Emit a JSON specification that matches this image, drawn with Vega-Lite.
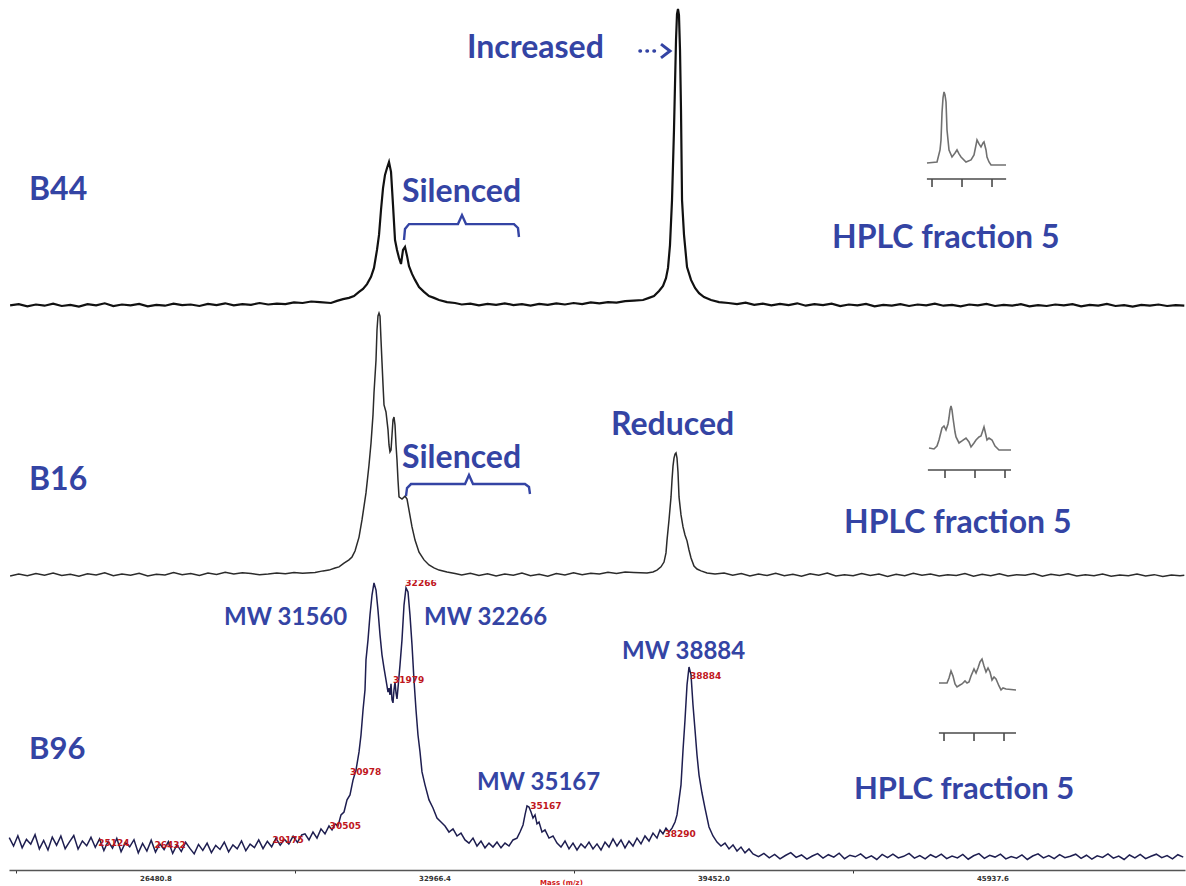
{
"$schema":"https://vega.github.io/schema/vega-lite/v6.json",
"background":"white",
"padding":{"left":5,"right":0,"top":0,"bottom":0},
"spacing":0,
"bounds":"flush",
"config":{"view":{"stroke":null}},
"datasets":{
"b44":[{"m":23100,"i":2.2},{"m":23300,"i":2.6},{"m":23500,"i":1.9},{"m":23700,"i":2.5},{"m":23900,"i":2.1},{"m":24100,"i":2.8},{"m":24300,"i":2.0},{"m":24500,"i":2.4},{"m":24700,"i":1.8},{"m":24900,"i":2.6},{"m":25100,"i":2.2},{"m":25300,"i":2.9},{"m":25500,"i":2.0},{"m":25700,"i":2.5},{"m":25900,"i":2.2},{"m":26100,"i":2.7},{"m":26300,"i":1.9},{"m":26500,"i":2.4},{"m":26700,"i":2.1},{"m":26900,"i":2.8},{"m":27100,"i":2.3},{"m":27300,"i":2.5},{"m":27500,"i":2.0},{"m":27700,"i":2.7},{"m":27900,"i":2.3},{"m":28100,"i":2.9},{"m":28300,"i":2.2},{"m":28500,"i":2.6},{"m":28700,"i":2.4},{"m":28900,"i":3.0},{"m":29100,"i":2.5},{"m":29300,"i":2.8},{"m":29500,"i":2.6},{"m":29700,"i":3.2},{"m":29900,"i":3.0},{"m":30100,"i":3.5},{"m":30300,"i":3.3},{"m":30560,"i":3.0},{"m":30700,"i":3.7},{"m":30840,"i":4.3},{"m":30979,"i":4.7},{"m":31095,"i":5.3},{"m":31212,"i":6.7},{"m":31305,"i":7.7},{"m":31398,"i":9.3},{"m":31491,"i":11.7},{"m":31560,"i":14.7},{"m":31630,"i":20.7},{"m":31677,"i":25.7},{"m":31723,"i":34.0},{"m":31770,"i":41.3},{"m":31816,"i":45.7},{"m":31863,"i":48.0},{"m":31909,"i":50.0},{"m":31956,"i":46.7},{"m":32002,"i":35.7},{"m":32049,"i":24.0},{"m":32095,"i":20.7},{"m":32142,"i":18.0},{"m":32188,"i":16.0},{"m":32235,"i":20.7},{"m":32281,"i":21.7},{"m":32328,"i":18.7},{"m":32374,"i":15.3},{"m":32444,"i":12.7},{"m":32514,"i":10.7},{"m":32607,"i":8.3},{"m":32723,"i":6.7},{"m":32839,"i":5.3},{"m":32955,"i":4.7},{"m":33072,"i":4.0},{"m":33258,"i":3.3},{"m":33444,"i":3.0},{"m":33600,"i":2.5},{"m":33800,"i":2.8},{"m":34000,"i":2.2},{"m":34200,"i":2.7},{"m":34400,"i":2.4},{"m":34600,"i":2.9},{"m":34800,"i":2.3},{"m":35000,"i":2.6},{"m":35200,"i":2.1},{"m":35400,"i":2.7},{"m":35600,"i":2.4},{"m":35800,"i":2.9},{"m":36000,"i":2.5},{"m":36200,"i":3.0},{"m":36400,"i":2.6},{"m":36600,"i":3.2},{"m":36800,"i":2.9},{"m":37000,"i":3.3},{"m":37200,"i":3.1},{"m":37400,"i":3.6},{"m":37600,"i":3.8},{"m":37815,"i":4.0},{"m":37954,"i":4.7},{"m":38070,"i":5.3},{"m":38187,"i":7.0},{"m":38280,"i":8.7},{"m":38349,"i":11.3},{"m":38396,"i":14.7},{"m":38442,"i":22.3},{"m":38489,"i":37.3},{"m":38535,"i":60.7},{"m":38582,"i":90.7},{"m":38605,"i":99.3},{"m":38628,"i":101.0},{"m":38651,"i":99.0},{"m":38675,"i":87.3},{"m":38698,"i":67.3},{"m":38722,"i":37.3},{"m":38768,"i":25.7},{"m":38838,"i":15.0},{"m":38931,"i":10.7},{"m":39024,"i":8.0},{"m":39117,"i":6.3},{"m":39233,"i":5.0},{"m":39396,"i":4.0},{"m":39582,"i":3.3},{"m":39800,"i":3.0},{"m":40000,"i":2.6},{"m":40200,"i":3.1},{"m":40400,"i":2.4},{"m":40600,"i":2.8},{"m":40800,"i":2.2},{"m":41000,"i":2.7},{"m":41200,"i":2.3},{"m":41400,"i":2.9},{"m":41600,"i":2.1},{"m":41800,"i":2.6},{"m":42000,"i":2.3},{"m":42200,"i":2.8},{"m":42400,"i":2.0},{"m":42600,"i":2.5},{"m":42800,"i":2.2},{"m":43000,"i":2.7},{"m":43200,"i":1.9},{"m":43400,"i":2.4},{"m":43600,"i":2.1},{"m":43800,"i":2.6},{"m":44000,"i":2.0},{"m":44200,"i":2.5},{"m":44400,"i":2.2},{"m":44600,"i":2.8},{"m":44800,"i":2.1},{"m":45000,"i":2.4},{"m":45200,"i":1.9},{"m":45400,"i":2.5},{"m":45600,"i":2.2},{"m":45800,"i":2.7},{"m":46000,"i":2.0},{"m":46200,"i":2.4},{"m":46400,"i":2.1},{"m":46600,"i":2.6},{"m":46800,"i":1.9},{"m":47000,"i":2.3},{"m":47200,"i":2.0},{"m":47400,"i":2.5},{"m":47600,"i":2.2},{"m":47800,"i":2.6},{"m":48000,"i":1.9},{"m":48200,"i":2.4},{"m":48400,"i":2.1},{"m":48600,"i":2.7},{"m":48800,"i":2.0},{"m":49000,"i":2.3},{"m":49200,"i":1.8},{"m":49400,"i":2.4},{"m":49600,"i":2.1},{"m":49800,"i":2.5},{"m":50000,"i":2.0},{"m":50200,"i":2.3},{"m":50400,"i":2.1}],
"b16":[{"m":23100,"i":1.5},{"m":23300,"i":2.2},{"m":23500,"i":1.6},{"m":23700,"i":2.4},{"m":23900,"i":1.8},{"m":24100,"i":2.6},{"m":24300,"i":1.7},{"m":24500,"i":2.1},{"m":24700,"i":1.4},{"m":24900,"i":2.3},{"m":25100,"i":1.9},{"m":25300,"i":2.7},{"m":25500,"i":1.6},{"m":25700,"i":2.2},{"m":25900,"i":1.8},{"m":26100,"i":2.5},{"m":26300,"i":1.5},{"m":26500,"i":2.1},{"m":26700,"i":1.9},{"m":26900,"i":2.8},{"m":27100,"i":2.0},{"m":27300,"i":2.4},{"m":27500,"i":1.7},{"m":27700,"i":2.6},{"m":27900,"i":2.1},{"m":28100,"i":2.9},{"m":28300,"i":2.2},{"m":28500,"i":2.7},{"m":28700,"i":2.4},{"m":28900,"i":2.0},{"m":29100,"i":2.2},{"m":29300,"i":2.6},{"m":29500,"i":2.3},{"m":29700,"i":2.8},{"m":29900,"i":2.5},{"m":30189,"i":2.8},{"m":30375,"i":3.4},{"m":30514,"i":3.7},{"m":30654,"i":4.5},{"m":30747,"i":4.9},{"m":30863,"i":6.3},{"m":30979,"i":7.5},{"m":31049,"i":8.6},{"m":31119,"i":10.8},{"m":31212,"i":16.0},{"m":31281,"i":22.4},{"m":31374,"i":32.5},{"m":31444,"i":42.9},{"m":31491,"i":51.1},{"m":31537,"i":61.6},{"m":31560,"i":69.8},{"m":31607,"i":82.1},{"m":31630,"i":93.3},{"m":31653,"i":98.5},{"m":31677,"i":99.6},{"m":31700,"i":98.5},{"m":31723,"i":89.6},{"m":31746,"i":81.3},{"m":31770,"i":72.8},{"m":31793,"i":65.3},{"m":31839,"i":62.7},{"m":31886,"i":56.0},{"m":31909,"i":50.4},{"m":31932,"i":47.8},{"m":31956,"i":48.5},{"m":31979,"i":54.1},{"m":32002,"i":59.7},{"m":32025,"i":60.8},{"m":32049,"i":57.8},{"m":32072,"i":50.4},{"m":32095,"i":44.8},{"m":32118,"i":37.3},{"m":32142,"i":31.0},{"m":32211,"i":30.2},{"m":32281,"i":31.3},{"m":32328,"i":30.2},{"m":32374,"i":26.1},{"m":32444,"i":19.8},{"m":32514,"i":14.9},{"m":32607,"i":10.4},{"m":32723,"i":7.5},{"m":32839,"i":5.6},{"m":32955,"i":4.5},{"m":33072,"i":3.7},{"m":33258,"i":3.0},{"m":33444,"i":2.4},{"m":33600,"i":1.9},{"m":33800,"i":2.5},{"m":34000,"i":1.7},{"m":34200,"i":2.3},{"m":34400,"i":1.5},{"m":34600,"i":2.2},{"m":34800,"i":1.8},{"m":35000,"i":2.6},{"m":35200,"i":1.6},{"m":35400,"i":2.1},{"m":35600,"i":1.4},{"m":35800,"i":2.4},{"m":36000,"i":1.9},{"m":36200,"i":2.7},{"m":36400,"i":2.0},{"m":36600,"i":2.5},{"m":36800,"i":2.2},{"m":37000,"i":2.9},{"m":37200,"i":2.4},{"m":37400,"i":3.0},{"m":37600,"i":2.8},{"m":37908,"i":2.6},{"m":38047,"i":3.0},{"m":38140,"i":3.7},{"m":38233,"i":4.9},{"m":38303,"i":6.7},{"m":38349,"i":10.1},{"m":38373,"i":14.9},{"m":38419,"i":22.4},{"m":38466,"i":31.0},{"m":38489,"i":37.3},{"m":38512,"i":42.5},{"m":38535,"i":45.5},{"m":38559,"i":47.0},{"m":38582,"i":47.4},{"m":38605,"i":45.5},{"m":38628,"i":40.3},{"m":38652,"i":31.0},{"m":38698,"i":24.3},{"m":38745,"i":19.8},{"m":38791,"i":16.8},{"m":38838,"i":14.6},{"m":38884,"i":11.2},{"m":38931,"i":8.2},{"m":39000,"i":5.2},{"m":39070,"i":4.1},{"m":39163,"i":3.4},{"m":39303,"i":2.6},{"m":39489,"i":2.2},{"m":39700,"i":2.6},{"m":39900,"i":1.8},{"m":40100,"i":2.4},{"m":40300,"i":1.5},{"m":40500,"i":2.2},{"m":40700,"i":1.7},{"m":40900,"i":2.5},{"m":41100,"i":1.6},{"m":41300,"i":2.1},{"m":41500,"i":1.4},{"m":41700,"i":2.3},{"m":41900,"i":1.8},{"m":42100,"i":2.6},{"m":42300,"i":1.5},{"m":42500,"i":2.0},{"m":42700,"i":1.6},{"m":42900,"i":2.4},{"m":43100,"i":1.7},{"m":43300,"i":2.2},{"m":43500,"i":1.3},{"m":43700,"i":2.1},{"m":43900,"i":1.6},{"m":44100,"i":2.5},{"m":44300,"i":1.8},{"m":44500,"i":2.2},{"m":44700,"i":1.5},{"m":44900,"i":2.0},{"m":45100,"i":1.7},{"m":45300,"i":2.4},{"m":45500,"i":1.4},{"m":45700,"i":2.1},{"m":45900,"i":1.6},{"m":46100,"i":2.3},{"m":46300,"i":1.5},{"m":46500,"i":2.0},{"m":46700,"i":1.8},{"m":46900,"i":2.4},{"m":47100,"i":1.4},{"m":47300,"i":2.1},{"m":47500,"i":1.7},{"m":47700,"i":2.3},{"m":47900,"i":1.5},{"m":48100,"i":2.0},{"m":48300,"i":1.6},{"m":48500,"i":2.2},{"m":48700,"i":1.4},{"m":48900,"i":1.9},{"m":49100,"i":1.6},{"m":49300,"i":2.2},{"m":49500,"i":1.5},{"m":49700,"i":2.0},{"m":49900,"i":1.3},{"m":50100,"i":1.9},{"m":50300,"i":1.6},{"m":50400,"i":1.8}],
"b96":[{"m":23080,"i":12.3},{"m":23180,"i":9.1},{"m":23280,"i":13.0},{"m":23380,"i":8.4},{"m":23480,"i":11.6},{"m":23580,"i":9.8},{"m":23680,"i":13.4},{"m":23780,"i":8.0},{"m":23880,"i":11.2},{"m":23980,"i":7.6},{"m":24080,"i":12.5},{"m":24180,"i":9.4},{"m":24280,"i":12.9},{"m":24380,"i":8.1},{"m":24480,"i":10.7},{"m":24580,"i":13.1},{"m":24680,"i":7.9},{"m":24780,"i":11.0},{"m":24880,"i":9.2},{"m":24980,"i":12.4},{"m":25080,"i":8.6},{"m":25180,"i":11.8},{"m":25280,"i":7.4},{"m":25380,"i":10.9},{"m":25480,"i":8.3},{"m":25580,"i":12.0},{"m":25680,"i":6.9},{"m":25780,"i":10.4},{"m":25880,"i":8.8},{"m":25980,"i":11.5},{"m":26080,"i":6.5},{"m":26180,"i":10.1},{"m":26280,"i":7.2},{"m":26380,"i":11.3},{"m":26480,"i":6.8},{"m":26580,"i":9.9},{"m":26680,"i":7.7},{"m":26780,"i":10.8},{"m":26880,"i":6.3},{"m":26980,"i":9.6},{"m":27080,"i":7.0},{"m":27180,"i":10.5},{"m":27280,"i":8.2},{"m":27380,"i":6.1},{"m":27480,"i":9.7},{"m":27580,"i":7.4},{"m":27680,"i":10.2},{"m":27780,"i":6.6},{"m":27880,"i":9.3},{"m":27980,"i":7.8},{"m":28080,"i":10.6},{"m":28180,"i":6.9},{"m":28280,"i":9.5},{"m":28380,"i":8.0},{"m":28480,"i":11.0},{"m":28580,"i":7.3},{"m":28680,"i":9.8},{"m":28780,"i":8.5},{"m":28880,"i":11.4},{"m":28980,"i":8.1},{"m":29080,"i":10.9},{"m":29180,"i":8.8},{"m":29280,"i":12.0},{"m":29380,"i":9.4},{"m":29480,"i":11.6},{"m":29580,"i":9.9},{"m":29680,"i":12.8},{"m":29780,"i":10.5},{"m":29880,"i":13.3},{"m":29956,"i":13.7},{"m":30049,"i":11.4},{"m":30142,"i":14.4},{"m":30235,"i":12.1},{"m":30328,"i":15.6},{"m":30421,"i":13.7},{"m":30514,"i":16.7},{"m":30584,"i":15.2},{"m":30654,"i":17.5},{"m":30723,"i":16.7},{"m":30793,"i":20.9},{"m":30863,"i":22.0},{"m":30933,"i":26.6},{"m":31002,"i":28.5},{"m":31072,"i":34.1},{"m":31142,"i":37.9},{"m":31212,"i":44.8},{"m":31258,"i":51.2},{"m":31305,"i":60.7},{"m":31351,"i":68.3},{"m":31374,"i":79.7},{"m":31421,"i":87.3},{"m":31467,"i":96.7},{"m":31514,"i":104.3},{"m":31560,"i":108.9},{"m":31607,"i":106.2},{"m":31653,"i":98.6},{"m":31700,"i":89.2},{"m":31746,"i":81.6},{"m":31793,"i":76.6},{"m":31839,"i":72.1},{"m":31886,"i":67.5},{"m":31909,"i":69.0},{"m":31932,"i":66.4},{"m":31956,"i":70.6},{"m":31979,"i":64.5},{"m":32002,"i":63.4},{"m":32025,"i":68.3},{"m":32049,"i":71.3},{"m":32072,"i":67.2},{"m":32095,"i":64.9},{"m":32118,"i":69.0},{"m":32165,"i":77.8},{"m":32211,"i":87.3},{"m":32258,"i":100.5},{"m":32304,"i":107.0},{"m":32351,"i":105.5},{"m":32397,"i":96.7},{"m":32444,"i":85.4},{"m":32490,"i":72.1},{"m":32537,"i":60.7},{"m":32583,"i":51.2},{"m":32630,"i":44.8},{"m":32676,"i":37.2},{"m":32746,"i":32.3},{"m":32839,"i":26.6},{"m":32932,"i":23.5},{"m":33025,"i":19.7},{"m":33118,"i":18.2},{"m":33211,"i":16.7},{"m":33304,"i":14.4},{"m":33397,"i":15.6},{"m":33490,"i":12.9},{"m":33583,"i":14.0},{"m":33676,"i":11.4},{"m":33769,"i":10.2},{"m":33862,"i":12.1},{"m":33955,"i":9.1},{"m":34048,"i":11.0},{"m":34141,"i":8.4},{"m":34234,"i":10.2},{"m":34327,"i":8.7},{"m":34420,"i":10.6},{"m":34513,"i":8.4},{"m":34606,"i":10.2},{"m":34699,"i":9.1},{"m":34792,"i":11.4},{"m":34885,"i":12.1},{"m":34955,"i":14.4},{"m":35025,"i":17.1},{"m":35071,"i":20.9},{"m":35118,"i":24.3},{"m":35164,"i":23.9},{"m":35211,"i":22.0},{"m":35257,"i":19.7},{"m":35304,"i":20.9},{"m":35350,"i":17.5},{"m":35397,"i":18.2},{"m":35466,"i":14.4},{"m":35536,"i":15.2},{"m":35629,"i":12.1},{"m":35722,"i":12.9},{"m":35815,"i":10.2},{"m":35908,"i":8.7},{"m":36001,"i":11.0},{"m":36094,"i":8.0},{"m":36187,"i":10.2},{"m":36280,"i":7.6},{"m":36373,"i":9.9},{"m":36466,"i":8.4},{"m":36559,"i":10.6},{"m":36652,"i":8.0},{"m":36745,"i":9.9},{"m":36838,"i":7.6},{"m":36931,"i":10.6},{"m":37024,"i":8.7},{"m":37117,"i":11.8},{"m":37210,"i":9.1},{"m":37303,"i":11.4},{"m":37396,"i":8.4},{"m":37489,"i":11.0},{"m":37582,"i":9.1},{"m":37675,"i":12.1},{"m":37768,"i":9.9},{"m":37861,"i":12.9},{"m":37954,"i":11.0},{"m":38047,"i":14.0},{"m":38140,"i":12.1},{"m":38210,"i":15.2},{"m":38280,"i":13.7},{"m":38349,"i":15.9},{"m":38419,"i":14.4},{"m":38489,"i":15.9},{"m":38559,"i":18.2},{"m":38605,"i":20.9},{"m":38652,"i":26.6},{"m":38698,"i":32.3},{"m":38745,"i":45.5},{"m":38791,"i":56.9},{"m":38838,"i":70.2},{"m":38884,"i":77.0},{"m":38931,"i":74.0},{"m":38977,"i":62.6},{"m":39024,"i":53.1},{"m":39070,"i":43.6},{"m":39117,"i":36.0},{"m":39186,"i":29.2},{"m":39256,"i":23.5},{"m":39349,"i":16.3},{"m":39442,"i":12.9},{"m":39535,"i":10.6},{"m":39628,"i":9.1},{"m":39721,"i":10.2},{"m":39814,"i":8.0},{"m":39907,"i":9.5},{"m":40000,"i":7.2},{"m":40093,"i":8.7},{"m":40186,"i":6.5},{"m":40279,"i":8.0},{"m":40372,"i":6.1},{"m":40500,"i":5.1},{"m":40625,"i":6.3},{"m":40750,"i":4.6},{"m":40875,"i":5.9},{"m":41000,"i":4.2},{"m":41125,"i":5.5},{"m":41250,"i":6.6},{"m":41375,"i":4.8},{"m":41500,"i":5.7},{"m":41625,"i":4.1},{"m":41750,"i":5.3},{"m":41875,"i":6.2},{"m":42000,"i":4.5},{"m":42125,"i":5.8},{"m":42250,"i":4.9},{"m":42375,"i":6.4},{"m":42500,"i":4.3},{"m":42625,"i":5.6},{"m":42750,"i":5.0},{"m":42875,"i":6.1},{"m":43000,"i":4.4},{"m":43125,"i":5.4},{"m":43250,"i":4.0},{"m":43375,"i":5.9},{"m":43500,"i":4.7},{"m":43625,"i":6.0},{"m":43750,"i":4.6},{"m":43875,"i":5.2},{"m":44000,"i":6.3},{"m":44125,"i":4.5},{"m":44250,"i":5.5},{"m":44375,"i":4.2},{"m":44500,"i":5.8},{"m":44625,"i":4.8},{"m":44750,"i":6.0},{"m":44875,"i":4.3},{"m":45000,"i":5.3},{"m":45125,"i":4.6},{"m":45250,"i":5.9},{"m":45375,"i":4.1},{"m":45500,"i":5.4},{"m":45625,"i":6.2},{"m":45750,"i":4.4},{"m":45875,"i":5.6},{"m":46000,"i":4.9},{"m":46125,"i":6.0},{"m":46250,"i":4.2},{"m":46375,"i":5.1},{"m":46500,"i":4.5},{"m":46625,"i":5.7},{"m":46750,"i":4.0},{"m":46875,"i":5.3},{"m":47000,"i":6.1},{"m":47125,"i":4.6},{"m":47250,"i":5.5},{"m":47375,"i":4.3},{"m":47500,"i":5.8},{"m":47625,"i":4.7},{"m":47750,"i":5.2},{"m":47875,"i":6.0},{"m":48000,"i":4.4},{"m":48125,"i":5.6},{"m":48250,"i":4.1},{"m":48375,"i":5.4},{"m":48500,"i":4.8},{"m":48625,"i":6.1},{"m":48750,"i":4.5},{"m":48875,"i":5.3},{"m":49000,"i":4.0},{"m":49125,"i":5.7},{"m":49250,"i":4.6},{"m":49375,"i":5.9},{"m":49500,"i":4.3},{"m":49625,"i":5.2},{"m":49750,"i":6.0},{"m":49875,"i":4.7},{"m":50000,"i":5.5},{"m":50125,"i":4.2},{"m":50250,"i":5.8},{"m":50375,"i":4.9}],
"lab1":[{"m":23539,"i":40.7,"label":"B44"},{"m":32211,"i":40.0,"label":"Silenced"},{"m":33722,"i":88.0,"label":"Increased"},{"m":42209,"i":24.7,"label":"HPLC fraction 5"}],
"lab2":[{"m":23539,"i":37.3,"label":"B16"},{"m":32211,"i":45.5,"label":"Silenced"},{"m":37070,"i":57.8,"label":"Reduced"},{"m":42488,"i":21.3,"label":"HPLC fraction 5"}],
"lab3":[{"m":23539,"i":45.5,"label":"B96"},{"m":42720,"i":30.4,"label":"HPLC fraction 5"}],
"mw3":[{"m":28073,"i":95.6,"label":"MW 31560"},{"m":32723,"i":95.6,"label":"MW 32266"},{"m":37326,"i":82.7,"label":"MW 38884"},{"m":33955,"i":33.0,"label":"MW 35167"}],
"red3":[{"m":25124,"i":10.2,"label":"25124"},{"m":26432,"i":9.4,"label":"26432"},{"m":29175,"i":11.4,"label":"29175"},{"m":30505,"i":16.7,"label":"30505"},{"m":30978,"i":37.2,"label":"30978"},{"m":31979,"i":72.1,"label":"31979"},{"m":32266,"i":109.0,"label":"32266"},{"m":35167,"i":24.3,"label":"35167"},{"m":38884,"i":73.6,"label":"38884"},{"m":38290,"i":13.7,"label":"38290"}],
"br1":[{"m":32258,"i":24.0},{"m":32281,"i":27.7},{"m":32374,"i":29.3},{"m":33513,"i":29.3},{"m":33606,"i":32.3},{"m":33699,"i":29.3},{"m":34815,"i":29.3},{"m":34908,"i":28.0},{"m":34931,"i":25.0}],
"br2":[{"m":32304,"i":31.3},{"m":32328,"i":34.3},{"m":32421,"i":35.8},{"m":33677,"i":35.8},{"m":33769,"i":39.2},{"m":33862,"i":35.8},{"m":35071,"i":35.8},{"m":35164,"i":34.7},{"m":35187,"i":32.1}],
"shaft1":[{"m":37744,"i":87.0},{"m":38186,"i":87.0}],
"head1":[{"m":38233,"i":89.3,"k":1},{"m":38442,"i":87.0,"k":2},{"m":38233,"i":84.7,"k":3}],
"inset1":[{"t":8.33,"a":20},{"t":11.67,"a":21.3},{"t":12.67,"a":36.3},{"t":13,"a":48.8},{"t":13.33,"a":82.5},{"t":13.67,"a":101.3},{"t":14,"a":108.8},{"t":14.33,"a":105},{"t":14.67,"a":96.3},{"t":15,"a":61.3},{"t":15.67,"a":36.3},{"t":16.67,"a":27.5},{"t":17.67,"a":32.5},{"t":18.33,"a":36.3},{"t":19,"a":31.3},{"t":19.67,"a":27.5},{"t":21.33,"a":21.3},{"t":23,"a":23.8},{"t":24,"a":30},{"t":24.67,"a":42.5},{"t":25,"a":48.8},{"t":25.67,"a":43.8},{"t":26.33,"a":40},{"t":27,"a":45},{"t":27.33,"a":46.3},{"t":28,"a":36.3},{"t":28.33,"a":27.5},{"t":29,"a":21.3},{"t":29.67,"a":17.5},{"t":34.67,"a":17.5}],
"inset2":[{"t":4.67,"a":27.5},{"t":6.33,"a":26.3},{"t":7.33,"a":30},{"t":8,"a":37.5},{"t":9,"a":52.5},{"t":9.67,"a":55},{"t":10.33,"a":50},{"t":11,"a":57.5},{"t":11.33,"a":65},{"t":11.67,"a":75},{"t":12,"a":80},{"t":12.33,"a":75},{"t":12.67,"a":65},{"t":13.33,"a":47.5},{"t":13.67,"a":41.3},{"t":14.67,"a":33.8},{"t":15.67,"a":36.3},{"t":17,"a":40},{"t":18,"a":35},{"t":18.67,"a":28.8},{"t":19.67,"a":33.8},{"t":20.33,"a":37.5},{"t":21.33,"a":41.3},{"t":22,"a":42.5},{"t":22.67,"a":50},{"t":23,"a":53.8},{"t":23.33,"a":48.8},{"t":24,"a":37.5},{"t":24.67,"a":40},{"t":25.67,"a":37.5},{"t":26.67,"a":30},{"t":28,"a":25},{"t":32,"a":25}],
"inset3":[{"t":8.33,"a":62.5},{"t":11,"a":62.5},{"t":11.67,"a":68.8},{"t":12.33,"a":77.5},{"t":13,"a":71.3},{"t":13.67,"a":61.3},{"t":14.33,"a":57.5},{"t":15.33,"a":60},{"t":16,"a":61.3},{"t":17,"a":65},{"t":17.67,"a":62.5},{"t":18.33,"a":63.8},{"t":19,"a":71.3},{"t":20,"a":80},{"t":20.67,"a":75},{"t":21.33,"a":81.3},{"t":22,"a":88.8},{"t":22.67,"a":92.5},{"t":23.33,"a":83.8},{"t":24,"a":76.3},{"t":24.67,"a":81.3},{"t":25.33,"a":76.3},{"t":26,"a":66.3},{"t":26.67,"a":70},{"t":27.33,"a":67.5},{"t":28.33,"a":58.8},{"t":29,"a":53.8},{"t":29.67,"a":56.3},{"t":30.67,"a":55},{"t":34,"a":53.8}],
"iax1":[{"t":8.3,"t2":34.7,"a":0}],
"iax2":[{"t":4.3,"t2":32,"a":0}],
"iax3":[{"t":8.3,"t2":34,"a":0}],
"itk":[{"t":10,"a":0,"a2":-10},{"t":20,"a":0,"a2":-10},{"t":30,"a":0,"a2":-10}]
},
"vconcat":[
{
"width":1176,"height":312,
"layer":[
{"encoding":{"x":{"field":"m","type":"quantitative","scale":{"domain":[23074,50416],"nice":false,"zero":false},"axis":null},"y":{"field":"i","type":"quantitative","scale":{"domain":[0,104],"nice":false,"zero":false},"axis":null}},
"layer":[
{"data":{"name":"b44"},"mark":{"type":"line","color":"#111111","strokeWidth":2.2},"encoding":{}},
{"data":{"name":"br1"},"mark":{"type":"line","color":"#3444a4","strokeWidth":2.4},"encoding":{}},
{"data":{"name":"shaft1"},"mark":{"type":"line","color":"#3444a4","strokeWidth":3.5,"strokeDash":[0.5,6.5],"strokeCap":"round"},"encoding":{}},
{"data":{"name":"head1"},"mark":{"type":"line","color":"#3444a4","strokeWidth":3},"encoding":{"order":{"field":"k","type":"quantitative"}}},
{"data":{"name":"lab1"},"mark":{"type":"text","align":"left","baseline":"middle","font":"Lato","fontWeight":"bold","fontSize":32,"color":"#3444a4"},"encoding":{"text":{"field":"label","type":"nominal"}}}
]},
{"encoding":{"x":{"field":"t","type":"quantitative","scale":{"domain":[-297.67,94.33],"nice":false,"zero":false},"axis":null},"y":{"field":"a","type":"quantitative","scale":{"domain":[-166.25,223.75],"nice":false,"zero":false},"axis":null}},
"layer":[
{"data":{"name":"inset1"},"mark":{"type":"line","color":"#707070","strokeWidth":1.6},"encoding":{}},
{"data":{"name":"iax1"},"mark":{"type":"rule","color":"#4a4a4a","strokeWidth":1.6},"encoding":{"x2":{"field":"t2"}}},
{"data":{"name":"itk"},"mark":{"type":"rule","color":"#4a4a4a","strokeWidth":1.6},"encoding":{"y2":{"field":"a2"}}}
]}
],
"resolve":{"scale":{"x":"independent","y":"independent"}}
},
{
"width":1176,"height":268,
"layer":[
{"encoding":{"x":{"field":"m","type":"quantitative","scale":{"domain":[23074,50416],"nice":false,"zero":false},"axis":null},"y":{"field":"i","type":"quantitative","scale":{"domain":[0,100],"nice":false,"zero":false},"axis":null}},
"layer":[
{"data":{"name":"b16"},"mark":{"type":"line","color":"#2b2b2b","strokeWidth":1.5},"encoding":{}},
{"data":{"name":"br2"},"mark":{"type":"line","color":"#3444a4","strokeWidth":2.4},"encoding":{}},
{"data":{"name":"lab2"},"mark":{"type":"text","align":"left","baseline":"middle","font":"Lato","fontWeight":"bold","fontSize":32,"color":"#3444a4"},"encoding":{"text":{"field":"label","type":"nominal"}}}
]},
{"encoding":{"x":{"field":"t","type":"quantitative","scale":{"domain":[-302,90],"nice":false,"zero":false},"axis":null},"y":{"field":"a","type":"quantitative","scale":{"domain":[-137.5,197.5],"nice":false,"zero":false},"axis":null}},
"layer":[
{"data":{"name":"inset2"},"mark":{"type":"line","color":"#707070","strokeWidth":1.6},"encoding":{}},
{"data":{"name":"iax2"},"mark":{"type":"rule","color":"#4a4a4a","strokeWidth":1.6},"encoding":{"x2":{"field":"t2"}}},
{"data":{"name":"itk"},"mark":{"type":"rule","color":"#4a4a4a","strokeWidth":1.6},"encoding":{"y2":{"field":"a2"}}}
]}
],
"resolve":{"scale":{"x":"independent","y":"independent"}}
},
{
"width":1176,"height":290,
"layer":[
{"encoding":{"x":{"field":"m","type":"quantitative","scale":{"domain":[23074,50416],"nice":false,"zero":false},"axis":{"values":[26480.8,32966.4,39452.0,45937.6],"format":".1f","tickOffset":-139.5,"labelOffset":139.5,"tickSize":3,"tickColor":"#333333","domainColor":"#555555","domainWidth":1.5,"grid":false,"labelFont":"DejaVu Sans","labelFontWeight":"bold","labelFontSize":7,"labelColor":"#333333","labelPadding":1,"title":"Mass (m/z)","titleColor":"#d01818","titleFont":"DejaVu Sans","titleFontSize":7,"titleFontWeight":"bold","titleX":552,"titleY":12,"titleAlign":"center","titleBaseline":"middle"}},"y":{"field":"i","type":"quantitative","scale":{"domain":[0,110],"nice":false,"zero":false},"axis":null}},
"layer":[
{"data":{"name":"b96"},"mark":{"type":"line","color":"#1e1e50","strokeWidth":1.5},"encoding":{}},
{"data":{"name":"red3"},"mark":{"type":"text","align":"left","baseline":"middle","dx":1,"font":"DejaVu Sans","fontWeight":"bold","fontSize":9,"color":"#c0161c","clip":true},"encoding":{"text":{"field":"label","type":"nominal"}}},
{"data":{"name":"lab3"},"mark":{"type":"text","align":"left","baseline":"middle","font":"Lato","fontWeight":"bold","fontSize":31,"color":"#3444a4"},"encoding":{"text":{"field":"label","type":"nominal"}}},
{"data":{"name":"mw3"},"mark":{"type":"text","align":"left","baseline":"middle","font":"Lato","fontWeight":"bold","fontSize":24,"color":"#3444a4"},"encoding":{"text":{"field":"label","type":"nominal"}}}
]},
{"encoding":{"x":{"field":"t","type":"quantitative","scale":{"domain":[-301.67,90.33],"nice":false,"zero":false},"axis":null},"y":{"field":"a","type":"quantitative","scale":{"domain":[-171.25,191.25],"nice":false,"zero":false},"axis":null}},
"layer":[
{"data":{"name":"inset3"},"mark":{"type":"line","color":"#707070","strokeWidth":1.6},"encoding":{}},
{"data":{"name":"iax3"},"mark":{"type":"rule","color":"#4a4a4a","strokeWidth":1.6},"encoding":{"x2":{"field":"t2"}}},
{"data":{"name":"itk"},"mark":{"type":"rule","color":"#4a4a4a","strokeWidth":1.6},"encoding":{"y2":{"field":"a2"}}}
]}
],
"resolve":{"scale":{"x":"independent","y":"independent"}}
}
]
}
